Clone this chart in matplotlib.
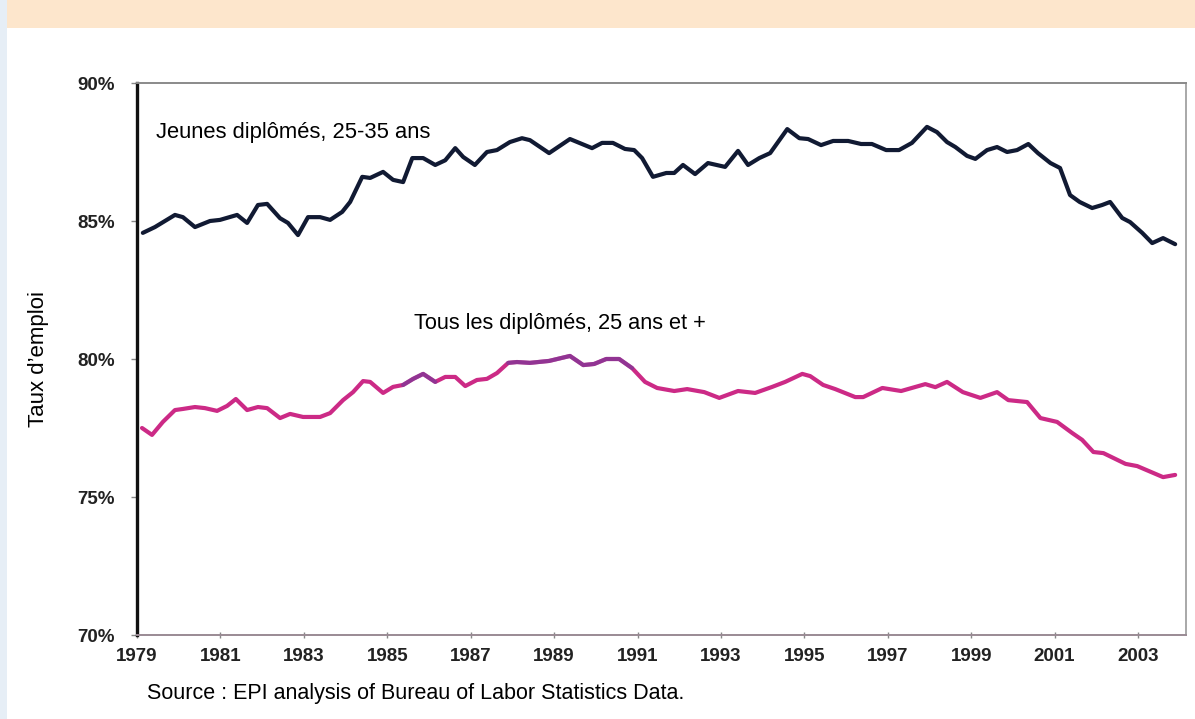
import numpy as np
import matplotlib.pyplot as plt
from matplotlib.patches import Rectangle

plt.rcParams['font.family'] = ['Liberation Sans', 'DejaVu Sans']

# Jeunes diplômés, 25-35 ans
young_years = [1979.14, 1979.43, 1979.91, 1980.10, 1980.39, 1980.75, 1980.99, 1981.40, 1981.64,
               1981.90, 1982.12, 1982.43, 1982.62, 1982.86, 1983.10, 1983.39, 1983.63, 1983.92,
               1984.11, 1984.40, 1984.59, 1984.90, 1985.14, 1985.38, 1985.60, 1985.86, 1986.15,
               1986.39, 1986.63, 1986.82, 1987.10, 1987.39, 1987.63, 1987.94, 1988.23, 1988.42,
               1988.88, 1989.38, 1989.91, 1990.15, 1990.41, 1990.70, 1990.92, 1991.11, 1991.37,
               1991.69, 1991.88, 1992.09, 1992.38, 1992.69, 1993.10, 1993.41, 1993.65, 1993.92,
               1994.18, 1994.59, 1994.88, 1995.09, 1995.40, 1995.69, 1996.05, 1996.36, 1996.62,
               1996.96, 1997.27, 1997.58, 1997.94, 1998.18, 1998.42, 1998.62, 1998.90, 1999.10,
               1999.38, 1999.62, 1999.86, 2000.10, 2000.37, 2000.60, 2000.90, 2001.13, 2001.37,
               2001.60, 2001.90, 2002.14, 2002.33, 2002.62, 2002.81, 2003.10, 2003.34, 2003.60,
               2003.89]
young_rate = [84.57, 84.78, 85.22, 85.14, 84.78, 85.00, 85.04, 85.22, 84.93,
              85.58, 85.62, 85.10, 84.93, 84.49, 85.14, 85.14, 85.04, 85.33,
              85.69, 86.60, 86.56, 86.78, 86.49, 86.41, 87.28, 87.28, 87.03,
              87.20, 87.64, 87.32, 87.03, 87.50, 87.57, 87.86, 88.00, 87.93,
              87.46, 87.97, 87.64, 87.83, 87.83, 87.61, 87.57, 87.28, 86.60,
              86.74, 86.74, 87.03, 86.70, 87.10, 86.96, 87.54, 87.03, 87.28,
              87.46, 88.33, 88.00, 87.97, 87.75, 87.90, 87.90, 87.79, 87.79,
              87.57, 87.57, 87.83, 88.41, 88.22, 87.86, 87.68, 87.36, 87.25,
              87.57, 87.68, 87.50, 87.57, 87.79, 87.46, 87.10, 86.92, 85.94,
              85.69, 85.47, 85.58, 85.69, 85.11, 84.96, 84.57, 84.20, 84.38,
              84.16]

# Tous les diplômés, 25 ans et +
all_years = [1979.12, 1979.36, 1979.62, 1979.91, 1980.10, 1980.39, 1980.63, 1980.92, 1981.16,
             1981.37, 1981.64, 1981.90, 1982.12, 1982.43, 1982.67, 1982.98, 1983.39, 1983.63,
             1983.94, 1984.18, 1984.42, 1984.59, 1984.90, 1985.14, 1985.38, 1985.62, 1985.86,
             1986.15, 1986.39, 1986.63, 1986.87, 1987.15, 1987.39, 1987.63, 1987.90, 1988.11,
             1988.42, 1988.88, 1989.38, 1989.70, 1989.96, 1990.25, 1990.56, 1990.87, 1991.18,
             1991.47, 1991.88, 1992.19, 1992.60, 1992.96, 1993.41, 1993.82, 1994.23, 1994.54,
             1994.95, 1995.14, 1995.45, 1995.74, 1996.22, 1996.41, 1996.87, 1997.32, 1997.90,
             1998.14, 1998.42, 1998.80, 1999.22, 1999.62, 1999.89, 2000.34, 2000.66, 2001.06,
             2001.42, 2001.66, 2001.93, 2002.17, 2002.70, 2002.98, 2003.60, 2003.89]
all_rate = [77.50, 77.25, 77.72, 78.15, 78.19, 78.26, 78.22, 78.12, 78.30,
            78.55, 78.15, 78.26, 78.22, 77.86, 78.01, 77.90, 77.90, 78.04,
            78.51, 78.80, 79.20, 79.17, 78.77, 78.99, 79.06, 79.28, 79.46,
            79.17, 79.35, 79.35, 79.02, 79.24, 79.28, 79.49, 79.86, 79.89,
            79.86, 79.93, 80.11, 79.78, 79.82, 80.00, 80.00, 79.67, 79.17,
            78.95, 78.84, 78.91, 78.80, 78.59, 78.84, 78.77, 78.99, 79.17,
            79.46, 79.38, 79.06, 78.91, 78.62, 78.62, 78.95, 78.84, 79.09,
            78.98, 79.17, 78.80, 78.59, 78.80, 78.51, 78.44, 77.86, 77.72,
            77.32, 77.07, 76.63, 76.59, 76.20, 76.12, 75.72, 75.80]

x_ticks = list(range(1979, 2004, 2))
y_ticks = [70, 75, 80, 85, 90]
y_labels = ['70%', '75%', '80%', '85%', '90%']

fig = plt.figure(figsize=(11.95, 7.19), dpi=100)
fig.patch.set_facecolor('white')

# page decorations: peach title band and light blue left strip
fig.patches.append(Rectangle((0, 1 - 28 / 719), 1, 28 / 719, transform=fig.transFigure,
                             facecolor='#fde6cc', edgecolor='none', zorder=0))
fig.patches.append(Rectangle((0, 0), 7 / 1195, 1, transform=fig.transFigure,
                             facecolor='#e6eef6', edgecolor='none', zorder=0))

ax = fig.add_axes([137 / 1195, 1 - 635 / 719, (1186 - 137) / 1195, (635 - 83) / 719])

ax.plot(young_years, young_rate, color='#111a33', lw=3.0, solid_joinstyle='round',
        solid_capstyle='round')
ax.plot(all_years, all_rate, color='#cc2a86', lw=3.0, solid_joinstyle='round',
        solid_capstyle='round')

# purple-tinted stretch of the lower line
yrs = np.array(all_years)
vals = np.array(all_rate)
for lo, hi in [(1985.3, 1986.2), (1987.8, 1990.9)]:
    m = (yrs >= lo) & (yrs <= hi)
    ax.plot(yrs[m], vals[m], color='#6a3c9c', lw=3.0, alpha=0.6,
            solid_joinstyle='round', solid_capstyle='round')

ax.set_xlim(1979, 2004.15)
ax.set_ylim(70, 90)
ax.set_xticks(x_ticks)
ax.set_xticklabels([str(y) for y in x_ticks], fontsize=13.5, fontweight='bold', color='#222222')
ax.set_yticks(y_ticks)
ax.set_yticklabels(y_labels, fontsize=13.5, fontweight='bold', color='#222222')
ax.tick_params(axis='x', direction='inout', length=5, width=1, color='#888888', pad=7)
ax.tick_params(axis='y', direction='out', length=4, width=1, color='#888888', pad=12)

ax.spines['left'].set_color('#111111')
ax.spines['left'].set_linewidth(2.4)
ax.spines['top'].set_color('#8a8a8a')
ax.spines['top'].set_linewidth(1.4)
ax.spines['right'].set_color('#9a9a9a')
ax.spines['right'].set_linewidth(1.2)
ax.spines['bottom'].set_color('#9a8a94')
ax.spines['bottom'].set_linewidth(1.4)

ax.set_ylabel('Taux d\u2019emploi', fontsize=16)
ax.yaxis.set_label_coords(-0.084, 0.5)

ax.text(1979.45, 88.2, 'Jeunes diplômés, 25-35 ans', fontsize=15.8, va='center', ha='left')
ax.text(1985.65, 81.3, 'Tous les diplômés, 25 ans et +', fontsize=15.7, va='center', ha='left')

fig.text(147 / 1195, 1 - 693 / 719, 'Source : EPI analysis of Bureau of Labor Statistics Data.',
         fontsize=15.5, va='center', ha='left')

fig.savefig('out.png', dpi=100)
